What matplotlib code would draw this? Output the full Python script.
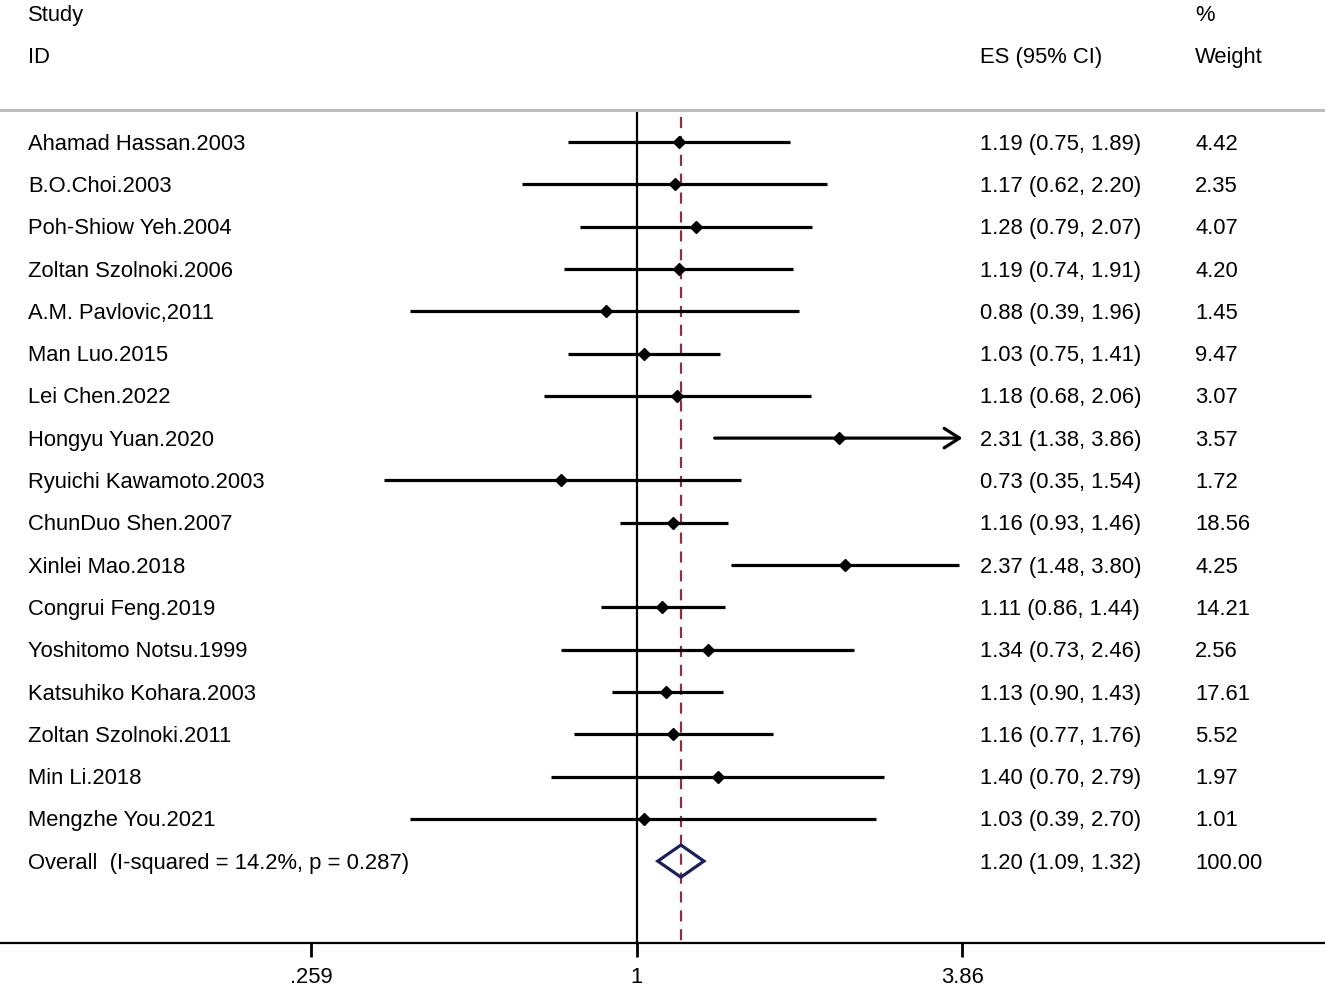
import numpy as np
import matplotlib
matplotlib.use("Agg")
import matplotlib.pyplot as plt
from matplotlib.patches import Polygon
from matplotlib.transforms import blended_transform_factory

plt.rcParams['font.family'] = ['Liberation Sans', 'DejaVu Sans']

# study data
studies = ["Ahamad Hassan.2003", "B.O.Choi.2003", "Poh-Shiow Yeh.2004",
           "Zoltan Szolnoki.2006", "A.M. Pavlovic,2011", "Man Luo.2015",
           "Lei Chen.2022", "Hongyu Yuan.2020", "Ryuichi Kawamoto.2003",
           "ChunDuo Shen.2007", "Xinlei Mao.2018", "Congrui Feng.2019",
           "Yoshitomo Notsu.1999", "Katsuhiko Kohara.2003", "Zoltan Szolnoki.2011",
           "Min Li.2018", "Mengzhe You.2021"]
es = [1.19, 1.17, 1.28, 1.19, 0.88, 1.03, 1.18, 2.31, 0.73, 1.16, 2.37, 1.11,
      1.34, 1.13, 1.16, 1.40, 1.03]
lo = [0.75, 0.62, 0.79, 0.74, 0.39, 0.75, 0.68, 1.38, 0.35, 0.93, 1.48, 0.86,
      0.73, 0.90, 0.77, 0.70, 0.39]
hi = [1.89, 2.20, 2.07, 1.91, 1.96, 1.41, 2.06, 3.86, 1.54, 1.46, 3.80, 1.44,
      2.46, 1.43, 1.76, 2.79, 2.70]
weight = [4.42, 2.35, 4.07, 4.20, 1.45, 9.47, 3.07, 3.57, 1.72, 18.56, 4.25,
          14.21, 2.56, 17.61, 5.52, 1.97, 1.01]

overall_label = "Overall  (I-squared = 14.2%, p = 0.287)"
overall_es, overall_lo, overall_hi, overall_w = 1.20, 1.09, 1.32, 100.00

tick_vals = [0.259, 1, 3.86]
tick_labels = [".259", "1", "3.86"]

fs = 15.8
W, H = 1325, 993
fig = plt.figure(figsize=(W / 100, H / 100), dpi=100)
ax = fig.add_axes([0, 50 / H, 1, 943 / H])

# x range: ticks at pixels 312, 637, 963 in a log scale
ppu = (963 - 312) / (np.log(tick_vals[-1]) - np.log(tick_vals[0]))
x0 = 637
ax.set_xscale('log')
ax.set_xlim(np.exp(-x0 / ppu), np.exp((W - x0) / ppu))

row_h = 42.3
top = 142
ax.set_ylim((943 - top) / row_h, -top / row_h)

n = len(studies)
rows = np.arange(n)
xt = blended_transform_factory(ax.transAxes, ax.transData)

# header
ax.text(0.021, -3.0, "Study", transform=xt, fontsize=fs, va='center')
ax.text(0.021, -2.0, "ID", transform=xt, fontsize=fs, va='center')
ax.text(0.740, -2.0, "ES (95% CI)", transform=xt, fontsize=fs, va='center')
ax.text(0.902, -3.0, "%", transform=xt, fontsize=fs, va='center')
ax.text(0.902, -2.0, "Weight", transform=xt, fontsize=fs, va='center')
ax.axhline(-0.76, color='#bdbdbd', lw=2.2)

ymax = (943 - top) / row_h
ax.vlines(1, -0.72, ymax, color='black', lw=1.6, zorder=2)
ax.vlines(overall_es, -0.6, ymax, color='#8b3040', lw=1.6,
          linestyles=(0, (5, 3.5)), zorder=2)

for i in rows:
    if hi[i] >= tick_vals[-1]:
        ax.annotate('', xy=(tick_vals[-1], i), xytext=(lo[i], i),
                    arrowprops=dict(arrowstyle='->,head_length=1.1,head_width=0.7',
                                    lw=2.3, color='black', shrinkA=0, shrinkB=0,
                                    mutation_scale=10), zorder=3)
    else:
        ax.plot([lo[i], hi[i]], [i, i], color='black', lw=2.3, zorder=3,
                solid_capstyle='butt')
    ax.plot(es[i], i, marker='D', color='black', markersize=6, zorder=4)
    ax.text(0.021, i + 0.18, studies[i], transform=xt, fontsize=fs, va='baseline')
    ax.text(0.740, i + 0.18, f"{es[i]:.2f} ({lo[i]:.2f}, {hi[i]:.2f})",
            transform=xt, fontsize=fs, va='baseline')
    ax.text(0.902, i + 0.18, f"{weight[i]:.2f}", transform=xt, fontsize=fs,
            va='baseline')

# overall diamond
yo = n
dh = 0.38
diamond = Polygon([(overall_lo, yo), (overall_es, yo - dh), (overall_hi, yo),
                   (overall_es, yo + dh)], closed=True, fill=False,
                  edgecolor='#1a1f5e', lw=2.3, zorder=5)
ax.add_patch(diamond)
ax.text(0.021, yo + 0.18, overall_label, transform=xt, fontsize=fs, va='baseline')
ax.text(0.740, yo + 0.18, f"{overall_es:.2f} ({overall_lo:.2f}, {overall_hi:.2f})",
        transform=xt, fontsize=fs, va='baseline')
ax.text(0.902, yo + 0.18, f"{overall_w:.2f}", transform=xt, fontsize=fs,
        va='baseline')

# axis
for s in ['top', 'left', 'right']:
    ax.spines[s].set_visible(False)
ax.spines['bottom'].set_linewidth(1.6)
ax.set_yticks([])
ax.set_xticks(tick_vals)
ax.set_xticklabels(tick_labels)
ax.xaxis.set_minor_locator(matplotlib.ticker.NullLocator())
ax.tick_params(axis='x', direction='out', length=10, width=2, pad=7,
               labelsize=fs)

fig.savefig("out.png", dpi=100)
